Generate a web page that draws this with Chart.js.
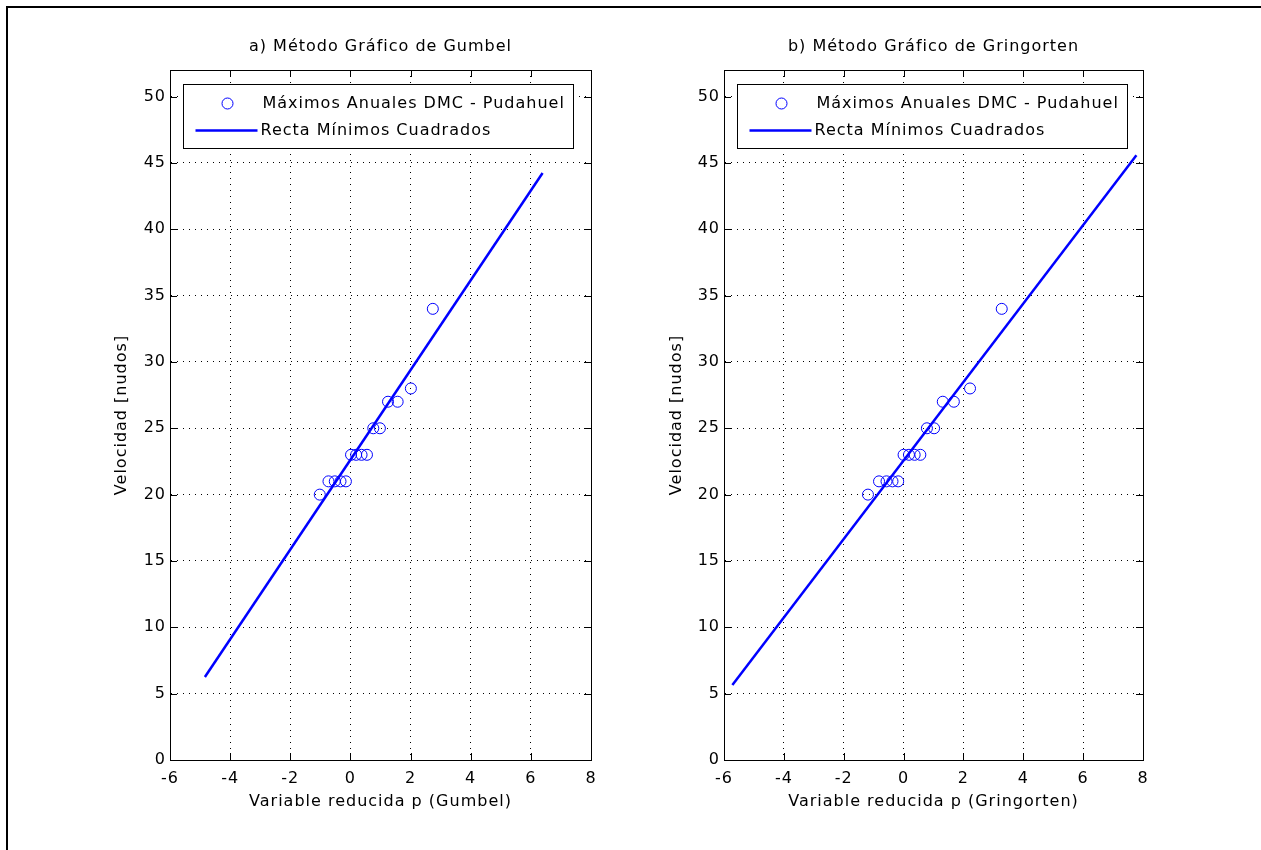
<!DOCTYPE html>
<html>
<head>
<meta charset="utf-8">
<script src="https://cdn.jsdelivr.net/npm/chart.js@4/dist/chart.umd.min.js"></script>
<style>
  html, body { margin: 0; padding: 0; background: #fff; width: 1261px; height: 850px; overflow: hidden; }
  #frame { position: absolute; left: 6px; top: 6px; width: 1400px; height: 1000px;
           border-top: 2px solid #000; border-left: 2px solid #000; box-sizing: border-box; }
  canvas { position: absolute; top: 0; }
  #c1 { left: 0; }
  #c2 { left: 630px; }
</style>
</head>
<body>
<div id="frame"></div>
<canvas id="c1" width="630" height="850"></canvas>
<canvas id="c2" width="631" height="850"></canvas>
<script>
// Annual maximum wind speeds (knots), sorted
const velocidad = [20, 21, 21, 21, 21, 23, 23, 23, 23, 25, 25, 27, 27, 28, 34];
// Reduced variate for each value
const pGumbel     = [-1.02, -0.73, -0.52, -0.33, -0.15, 0.02, 0.19, 0.37, 0.55, 0.76, 0.98, 1.25, 1.57, 2.01, 2.74];
const pGringorten = [-1.19, -0.82, -0.57, -0.37, -0.18, 0.00, 0.18, 0.37, 0.56, 0.78, 1.02, 1.31, 1.68, 2.22, 3.28];
// Least-squares lines (end points)
const rectaGumbelX = [-4.84, 6.39];
const rectaGumbelY = [6.25, 44.24];
const rectaGringortenX = [-5.72, 7.78];
const rectaGringortenY = [5.66, 45.57];
// Axes
const xTicks = [-6, -4, -2, 0, 2, 4, 6, 8];
const yTicks = [0, 5, 10, 15, 20, 25, 30, 35, 40, 45, 50];
const xRange = [-6, 8];
const yRange = [0, 52];
const serieLabels = ['Máximos Anuales DMC - Pudahuel', 'Recta Mínimos Cuadrados'];

const FONT = 'DejaVu Sans';
const FS = 16;
const SPACING = '1px';
const BLUE = '#0000ff';

function pts(xs, ys) { return xs.map((x, i) => ({ x: x, y: ys[i] })); }

// Slightly open letter spacing for every text on the canvas
const spacingPlugin = {
  id: 'spacing',
  beforeLayout(chart) { chart.ctx.letterSpacing = SPACING; },
  beforeDraw(chart) { chart.ctx.letterSpacing = SPACING; }
};

// Box, inward ticks and legend
const boxPlugin = {
  id: 'boxTicksLegend',
  afterDatasetsDraw(chart) {
    const { ctx, chartArea: a, scales } = chart;
    ctx.save();
    ctx.strokeStyle = '#000';
    ctx.lineWidth = 1;
    ctx.setLineDash([]);
    ctx.strokeRect(Math.round(a.left) + 0.5, Math.round(a.top) + 0.5,
                   Math.round(a.right - a.left), Math.round(a.bottom - a.top));
    const L = 7;
    ctx.beginPath();
    scales.x.ticks.forEach(t => {
      const px = Math.round(scales.x.getPixelForValue(t.value)) + 0.5;
      ctx.moveTo(px, a.bottom); ctx.lineTo(px, a.bottom - L);
      ctx.moveTo(px, a.top); ctx.lineTo(px, a.top + L);
    });
    scales.y.ticks.forEach(t => {
      const py = Math.round(scales.y.getPixelForValue(t.value)) + 0.5;
      ctx.moveTo(a.left, py); ctx.lineTo(a.left + L, py);
      ctx.moveTo(a.right, py); ctx.lineTo(a.right - L, py);
    });
    ctx.stroke();

    // legend
    const lx = Math.round(a.left) + 13.5, ly = Math.round(a.top) + 14.5;
    const lw = 390, lh = 64;
    ctx.fillStyle = '#fff';
    ctx.fillRect(lx, ly, lw, lh);
    ctx.strokeRect(lx, ly, lw, lh);
    const ds = chart.data.datasets;
    ctx.strokeStyle = BLUE;
    ctx.lineWidth = 1;
    ctx.beginPath();
    ctx.arc(lx + 44, ly + 19, 5.5, 0, Math.PI * 2);
    ctx.stroke();
    ctx.lineWidth = 2.5;
    ctx.beginPath();
    ctx.moveTo(lx + 12, ly + 46); ctx.lineTo(lx + 74, ly + 46);
    ctx.stroke();
    ctx.fillStyle = '#000';
    ctx.font = FS + 'px "' + FONT + '"';
    ctx.letterSpacing = SPACING;
    ctx.textBaseline = 'middle';
    ctx.textAlign = 'left';
    ctx.fillText(ds[0].label, lx + 79, ly + 19);
    ctx.fillText(ds[1].label, lx + 77, ly + 46);
    ctx.restore();
  }
};

function makeChart(id, cfg) {
  const c = document.getElementById(id);
  return new Chart(c, {
    type: 'scatter',
    data: {
      datasets: [
        {
          label: serieLabels[0],
          data: pts(cfg.px, velocidad),
          pointStyle: 'circle',
          pointRadius: 5.5,
          pointBorderWidth: 1,
          borderColor: BLUE,
          backgroundColor: 'rgba(0,0,0,0)',
          showLine: false,
          order: 1
        },
        {
          label: serieLabels[1],
          data: pts(cfg.lx, cfg.ly),
          showLine: true,
          borderColor: BLUE,
          borderWidth: 2.5,
          pointRadius: 0,
          fill: false,
          order: 2
        }
      ]
    },
    options: {
      responsive: false,
      animation: false,
      devicePixelRatio: 1,
      layout: { padding: { left: 0, right: cfg.padRight, top: 0, bottom: 38.4 } },
      plugins: {
        legend: { display: false },
        tooltip: { enabled: false },
        title: {
          display: true,
          fullSize: false,
          text: cfg.title,
          color: '#000',
          font: { family: FONT, size: FS, weight: 'normal', lineHeight: 1.2 },
          padding: { top: 37.4, bottom: 13.4 }
        }
      },
      scales: {
        x: {
          type: 'linear',
          min: xRange[0], max: xRange[1],
          afterBuildTicks(s) { s.ticks = xTicks.map(v => ({ value: v })); },
          afterFit(s) { s.height = 51.6; },
          ticks: { color: '#000', padding: 9, font: { family: FONT, size: FS }, maxRotation: 0 },
          grid: { color: '#000', lineWidth: 1, drawTicks: false },
          border: { display: true, color: '#000', width: 1, dash: [1, 5] },
          title: { display: true, text: cfg.xTitle, color: '#000',
                   font: { family: FONT, size: FS, lineHeight: 1.2 }, padding: { top: 0, bottom: 0 } }
        },
        y: {
          type: 'linear',
          min: yRange[0], max: yRange[1],
          afterBuildTicks(s) { s.ticks = yTicks.map(v => ({ value: v })); },
          afterFit(s) { s.width = cfg.yWidth; },
          ticks: { color: '#000', padding: 4, font: { family: FONT, size: FS } },
          grid: { color: '#000', lineWidth: 1, drawTicks: false },
          border: { display: true, color: '#000', width: 1, dash: [1, 5] },
          title: { display: true, text: 'Velocidad [nudos]', color: '#000',
                   font: { family: FONT, size: FS, lineHeight: 1.2 }, padding: { top: cfg.yTitlePad, bottom: 0 } }
        }
      }
    },
    plugins: [spacingPlugin, boxPlugin]
  });
}

makeChart('c1', {
  px: pGumbel, lx: rectaGumbelX, ly: rectaGumbelY,
  title: 'a) Método Gráfico de Gumbel',
  xTitle: 'Variable reducida p (Gumbel)',
  padRight: 39, yWidth: 170, yTitlePad: 112.4
});
makeChart('c2', {
  px: pGringorten, lx: rectaGringortenX, ly: rectaGringortenY,
  title: 'b) Método Gráfico de Gringorten',
  xTitle: 'Variable reducida p (Gringorten)',
  padRight: 118, yWidth: 94, yTitlePad: 37.4
});
</script>
</body>
</html>
